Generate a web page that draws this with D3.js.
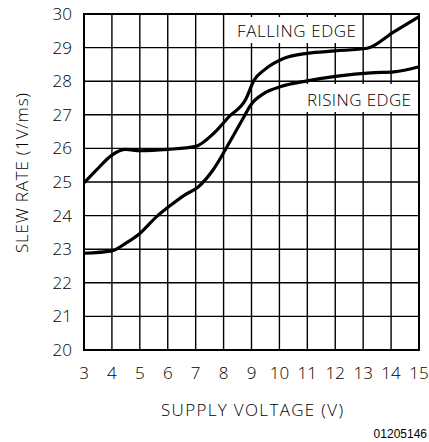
<!DOCTYPE html>
<html>
<head>
<meta charset="utf-8">
<script src="https://cdn.jsdelivr.net/npm/d3@7"></script>
<style>
  body { margin: 0; background: #fff; }
  text { font-family: "Open Sans", Lato, sans-serif; font-weight: 300; fill: #000; }
</style>
</head>
<body>
<script>
// supply voltage (V) vs slew rate (1V/ms)
var fallingV = [3, 3.45, 4, 4.5, 5, 6, 7, 7.65, 8.2, 8.78, 9.1, 9.45, 10.17, 11, 12, 13.14, 14.1, 15];
var fallingSR = [24.97, 25.36, 25.8, 25.97, 25.93, 25.97, 26.06, 26.45, 26.95, 27.44, 28.04, 28.33, 28.68, 28.83, 28.9, 28.98, 29.47, 29.92];

var risingV = [3, 4, 4.5, 5, 5.6, 6.2, 6.6, 7.1, 7.64, 8.26, 8.73, 8.97, 9.45, 10.05, 11, 12.08, 13.27, 14.1, 15];
var risingSR = [22.88, 22.95, 23.18, 23.47, 23.97, 24.37, 24.61, 24.86, 25.38, 26.25, 26.94, 27.29, 27.64, 27.84, 28.01, 28.15, 28.25, 28.28, 28.43];

var xTicks = d3.range(3, 16);
var yTicks = d3.range(20, 31);

var width = 429, height = 442;
var margin = {left: 84, right: 10, top: 14, bottom: 92};

var svg = d3.select("body").append("svg")
    .attr("width", width)
    .attr("height", height);

var x = d3.scaleLinear().domain([3, 15]).range([margin.left, width - margin.right]);
var y = d3.scaleLinear().domain([20, 30]).range([height - margin.bottom, margin.top]);

// grid
svg.append("g").selectAll("line")
    .data(xTicks)
    .enter().append("line")
    .attr("x1", d => x(d)).attr("x2", d => x(d))
    .attr("y1", y(20)).attr("y2", y(30))
    .attr("stroke", "#000").attr("stroke-width", 1.4);

svg.append("g").selectAll("line")
    .data(yTicks)
    .enter().append("line")
    .attr("x1", x(3)).attr("x2", x(15))
    .attr("y1", d => y(d)).attr("y2", d => y(d))
    .attr("stroke", "#000").attr("stroke-width", 1.4);

// frame
svg.append("rect")
    .attr("x", x(3)).attr("y", y(30))
    .attr("width", x(15) - x(3)).attr("height", y(20) - y(30))
    .attr("fill", "none").attr("stroke", "#000").attr("stroke-width", 2);

// tick labels
svg.append("g").selectAll("text")
    .data(yTicks)
    .enter().append("text")
    .attr("x", x(3) - 12)
    .attr("y", d => y(d) + 6)
    .attr("text-anchor", "end")
    .attr("font-size", 17)
    .text(d => d);

svg.append("g").selectAll("text")
    .data(xTicks)
    .enter().append("text")
    .attr("x", d => x(d))
    .attr("y", y(20) + 29)
    .attr("text-anchor", "middle")
    .attr("font-size", 17)
    .text(d => d);

// axis titles
svg.append("text")
    .attr("x", 161).attr("y", 416)
    .attr("font-size", 17)
    .attr("textLength", 182)
    .attr("lengthAdjust", "spacing")
    .text("SUPPLY VOLTAGE (V)");

svg.append("text")
    .attr("transform", "translate(28,253) rotate(-90)")
    .attr("font-size", 17)
    .attr("textLength", 160)
    .attr("lengthAdjust", "spacing")
    .text("SLEW RATE (1V/ms)");

svg.append("text")
    .attr("x", 427).attr("y", 438)
    .attr("text-anchor", "end")
    .style("font-family", "Liberation Sans, Arial, sans-serif")
    .style("font-weight", 400)
    .attr("font-size", 12)
    .text("01205146");

// curves
var line = d3.line()
    .x(d => x(d[0]))
    .y(d => y(d[1]))
    .curve(d3.curveMonotoneX);

svg.append("path")
    .datum(d3.zip(fallingV, fallingSR))
    .attr("d", line)
    .attr("fill", "none").attr("stroke", "#000").attr("stroke-width", 3.2);

svg.append("path")
    .datum(d3.zip(risingV, risingSR))
    .attr("d", line)
    .attr("fill", "none").attr("stroke", "#000").attr("stroke-width", 3.2);

// curve labels on white boxes
svg.append("rect")
    .attr("x", 230).attr("y", 17).attr("width", 131).attr("height", 26)
    .attr("fill", "#fff");
svg.append("text")
    .attr("x", 237).attr("y", 37)
    .attr("font-size", 17)
    .attr("textLength", 119)
    .attr("lengthAdjust", "spacing")
    .text("FALLING EDGE");

svg.append("rect")
    .attr("x", 300).attr("y", 84).attr("width", 117).attr("height", 28)
    .attr("fill", "#fff");
svg.append("text")
    .attr("x", 307).attr("y", 106)
    .attr("font-size", 17)
    .attr("textLength", 104)
    .attr("lengthAdjust", "spacing")
    .text("RISING EDGE");
</script>
</body>
</html>
